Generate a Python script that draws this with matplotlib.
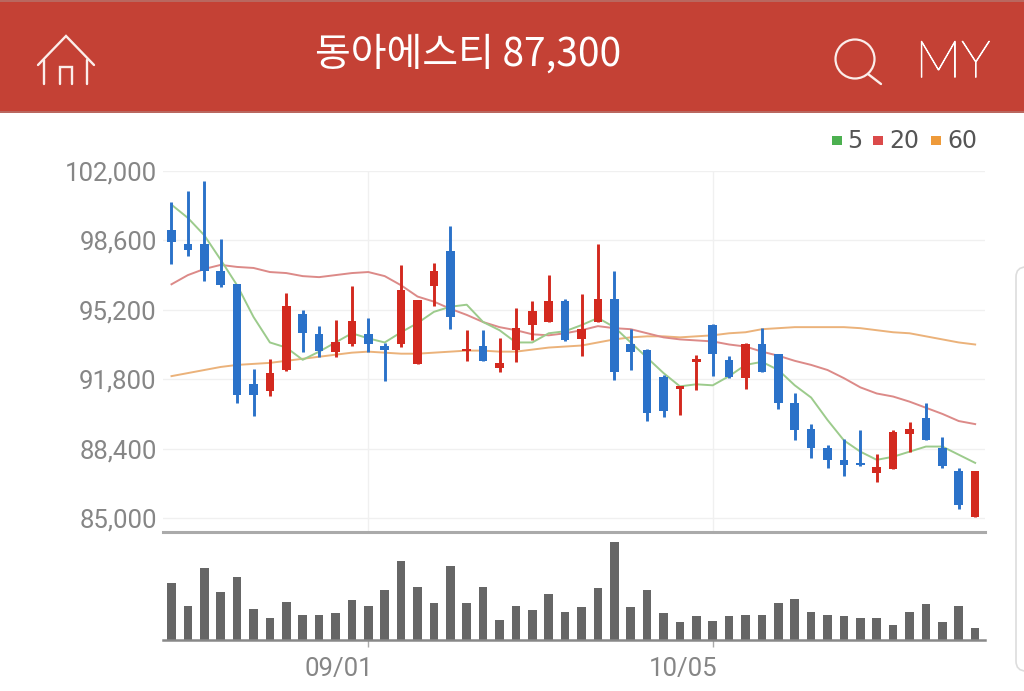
import matplotlib
matplotlib.use("Agg")
import matplotlib.pyplot as plt
import matplotlib.patheffects as pe
from matplotlib.patches import Rectangle, Circle, FancyBboxPatch
from matplotlib.transforms import ScaledTranslation

opens = [99100,98400,98400,97100,96450,91550,91200,92250,95000,94000,93150,93500,94000,93450,93500,92550,96350,98100,93200,93450,92350,93250,94450,94600,95650,93750,94600,95750,93500,93250,91900,91300,92650,94450,92750,91850,93500,93050,90650,89350,88450,87850,87700,87200,87400,89100,89900,88450,87300,85050]
closes = [98500,98150,97100,96400,91050,91050,92100,95400,94050,93200,93600,94650,93500,93250,96150,95700,97100,94850,93300,92700,92600,94300,95150,95650,93700,94250,95750,92150,93150,90150,90250,91450,92800,93050,91900,93500,92150,90650,89300,88450,87850,87600,87600,87500,89200,89350,88800,87550,85650,87300]
highs = [100500,101000,101500,98650,96450,92300,92800,96000,95200,94400,94700,96350,94800,93550,97400,95700,97500,99300,94200,94200,93800,95300,95650,96900,95750,95950,98400,97100,94250,93300,92000,91450,93000,94500,92950,93550,94300,93050,91100,89600,88600,88850,89300,88150,89300,89700,90650,88950,87450,87300]
lows = [97450,97850,96600,96300,90650,90000,91000,92200,93150,92900,92900,93450,93150,91700,93400,92550,95400,94250,92700,92700,92150,92650,93700,94600,93650,92950,94600,91750,92250,89750,89950,90050,91250,91950,91850,91300,92150,90350,88800,87950,87450,87050,87550,86750,87400,88250,88800,87450,85450,85050]
ma5 = [100350,99700,98850,97650,96400,94850,93600,93350,92750,93150,93600,94050,93800,93600,94100,94550,95100,95350,95450,94600,94200,93600,93600,94050,94150,94450,94800,94350,93600,92850,92100,91450,91550,91500,91950,92500,92650,92250,91500,90900,89800,88800,88250,87850,88000,88250,88500,88500,88100,87700]
ma20 = [96450,96900,97200,97400,97300,97250,97050,97000,96850,96800,96900,97000,97050,96850,96400,95850,95600,95250,94950,94600,94350,94200,94000,93950,94050,94200,94400,94300,94250,94050,93850,93750,93700,93650,93500,93400,93150,92950,92700,92500,92250,91850,91400,91100,90950,90700,90400,90100,89750,89600]
ma60 = [91950,92100,92250,92400,92500,92550,92600,92700,92800,92900,93000,93100,93150,93100,93050,93050,93100,93150,93200,93200,93150,93150,93250,93350,93400,93450,93600,93750,93850,93900,93900,93850,93900,93950,94050,94100,94250,94300,94350,94350,94350,94350,94300,94200,94100,94050,93900,93750,93600,93500]
volumes = [57,34,72,48,63,31,22,38,25,25,27,40,34,50,79,53,37,74,37,53,20,34,30,46,28,33,52,98,33,50,27,18,24,19,24,25,25,37,41,28,25,24,22,22,15,28,36,18,34,12]
price_ticks = [85000,88400,91800,95200,98600,102000]
date_tick_positions = [12,33]
date_tick_labels = ["09/01","10/05"]
title_text = "동아에스티 87,300"
legend_labels = ["5","20","60"]

BLUE="#2B72C9"; RED="#D3291F"; GREY="#666666"
WIDTH,HEIGHT=1024,691
fig=plt.figure(figsize=(WIDTH/100,HEIGHT/100),dpi=100,facecolor="white")

def place(l,t,r,b):
    return [l/WIDTH,1-b/HEIGHT,(r-l)/WIDTH,(b-t)/HEIGHT]

# page chrome in pixel coordinates
bg=fig.add_axes([0,0,1,1],zorder=0)
bg.set_xlim(0,WIDTH); bg.set_ylim(HEIGHT,0); bg.axis("off")
bg.add_patch(Rectangle((0,0),WIDTH,112,fc="#C44135",ec="none"))
bg.add_patch(Rectangle((0,0),WIDTH,1.5,fc="#B9675F",ec="none"))
bg.add_patch(Rectangle((0,111),WIDTH,1.5,fc="#B9675F",ec="none"))
bg.text(468,55,title_text,color="white",ha="center",va="center",fontsize=28,
        family=["Noto Sans CJK KR","DejaVu Sans"])
my=bg.text(953,63,"MY",color="white",ha="center",va="center",fontsize=37,
           family="Lato",fontweight="light")
my.set_path_effects([pe.withStroke(linewidth=0.7,foreground="white")])
white=dict(color="#FBEDEA",lw=1.7,solid_capstyle="round",solid_joinstyle="miter")
bg.plot([38,66,94],[65,36,65],**white)
bg.plot([44,44],[60,84],**white)
bg.plot([87,87],[60,84],**white)
bg.plot([59.5,59.5,72,72],[84,67,67,84],**white)
bg.add_patch(Circle((855,59),19.5,fc="none",ec="#FBEDEA",lw=1.6))
bg.plot([868,881],[74,84],**white)
bg.add_patch(FancyBboxPatch((1016,267),40,404,boxstyle="round,pad=0,rounding_size=10",
                            fc="white",ec="#DDDDDD",lw=1.2))
# legend
for x,c,tx,lab in zip([832,873,931],["#4CB050","#DB4A4A","#EE9A3A"],[847,889,947],legend_labels):
    bg.add_patch(Rectangle((x,136),10,9,fc=c,ec="none"))
    bg.text(tx,140.5,lab,color="#555555",fontsize=17,ha="left",va="center",family="DejaVu Sans")

xs=list(range(len(closes)))
XL=(-0.518,49.60)

# price panel
ax=fig.add_axes(place(163,171,985,532),zorder=1)
ax.patch.set_alpha(0)
ax.set_xlim(*XL); ax.set_ylim(84314,102000)
ax.set_yticks(price_ticks)
ax.set_yticklabels([f"{v:,}" for v in price_ticks],color="#868686",fontsize=18.5,family="Roboto")
ax.set_xticks(date_tick_positions); ax.set_xticklabels([])
ax.grid(True,color="#F0F0F0",lw=1)
ax.set_axisbelow(True)
ax.tick_params(axis="both",length=0,pad=4.5)
for s in ["top","left","right"]:
    ax.spines[s].set_visible(False)
ax.spines["bottom"].set_color("#AAAAAA"); ax.spines["bottom"].set_linewidth(2.2)
ax.plot(xs,ma60,color="#EBB27A",lw=1.4,zorder=2)
ax.plot(xs,ma20,color="#DC8A88",lw=1.4,zorder=2)
ax.plot(xs,ma5,color="#9CCB8C",lw=1.4,zorder=2)
colors=[RED if c>=o else BLUE for o,c in zip(opens,closes)]
ax.vlines(xs,lows,highs,colors=colors,lw=2.1,zorder=3)
tops=[max(o,c) for o,c in zip(opens,closes)]
bots=[min(o,c) for o,c in zip(opens,closes)]
ax.bar(xs,[t-b for t,b in zip(tops,bots)],bottom=bots,width=0.52,color=colors,zorder=4)

# volume panel
vx=fig.add_axes(place(163,540,985,640),zorder=1)
vx.patch.set_alpha(0)
vx.set_xlim(*XL); vx.set_ylim(0,100)
vx.bar(xs,volumes,width=0.52,color=GREY)
vx.set_yticks([])
vx.set_xticks(date_tick_positions)
vx.set_xticklabels(date_tick_labels,color="#868686",fontsize=18.5,ha="right",family="Roboto")
vx.tick_params(axis="x",length=5,color="#AAAAAA",width=1,pad=7)
off=ScaledTranslation(5/100,0,fig.dpi_scale_trans)
for lab in vx.get_xticklabels():
    lab.set_transform(lab.get_transform()+off)
for s in ["top","left","right"]:
    vx.spines[s].set_visible(False)
vx.spines["bottom"].set_color("#888888"); vx.spines["bottom"].set_linewidth(1.8)

fig.savefig("out.png",dpi=100)
